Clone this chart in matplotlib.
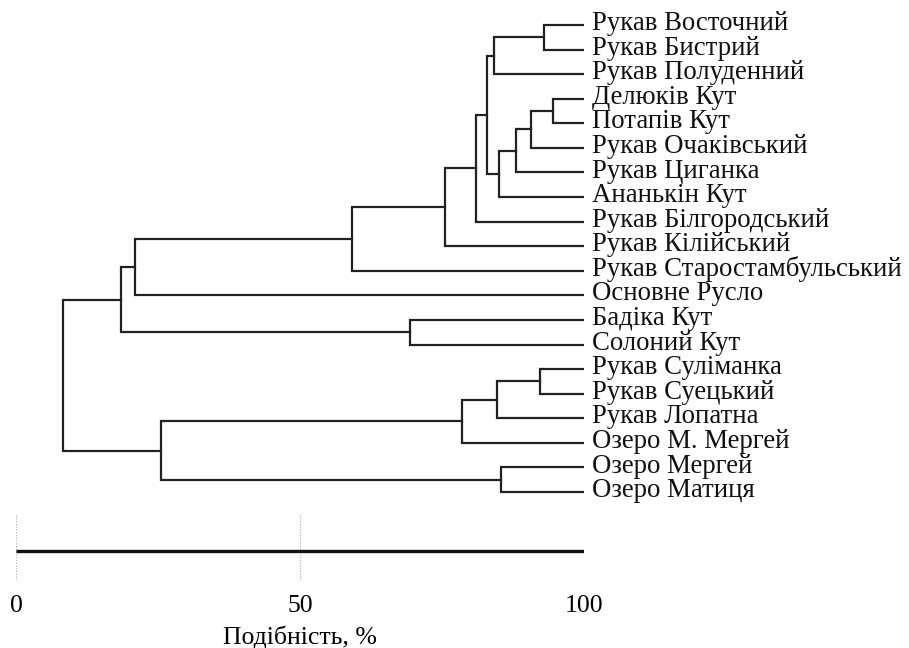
import matplotlib
matplotlib.use("Agg")
import matplotlib.pyplot as plt

plt.rcParams['font.family'] = ['Liberation Serif', 'DejaVu Serif']

# leaf labels, top to bottom
leaves = [
    'Рукав Восточний', 'Рукав Бистрий', 'Рукав Полуденний', 'Делюків Кут',
    'Потапів Кут', 'Рукав Очаківський', 'Рукав Циганка', 'Ананькін Кут',
    'Рукав Білгородський', 'Рукав Кілійський', 'Рукав Старостамбульський',
    'Основне Русло', 'Бадіка Кут', 'Солоний Кут', 'Рукав Суліманка',
    'Рукав Суецький', 'Рукав Лопатна', 'Озеро М. Мергей', 'Озеро Мергей',
    'Озеро Матиця',
]

# merges: (child a, child b) -> new cluster id 20, 21, ...
merge_a = [0, 20, 3, 22, 23, 24, 21, 26, 27, 28, 29, 12, 30, 14, 33, 34, 18, 35, 32]
merge_b = [1, 2, 4, 5, 6, 7, 25, 8, 9, 10, 11, 13, 31, 15, 16, 17, 19, 36, 37]
# similarity (%) at which each merge happens
merge_sim = [93.0, 84.2, 94.6, 90.7, 88.0, 85.0, 82.9, 81.0, 75.5, 59.2,
             20.9, 69.3, 18.5, 92.3, 84.6, 78.6, 85.3, 25.6, 8.2]

scale_ticks = [0, 50, 100]

fig = plt.figure(figsize=(9.09, 6.48), dpi=100)
ax = fig.add_axes([0.0176, 0.2218, 0.6249, 0.7586])
col = '#222222'

# node positions
xs = {i: 100.0 for i in range(len(leaves))}
ys = {i: float(i) for i in range(len(leaves))}
for k, (a, b, s) in enumerate(zip(merge_a, merge_b, merge_sim)):
    node = len(leaves) + k
    ax.plot([xs[a], s, s, xs[b]], [ys[a], ys[a], ys[b], ys[b]],
            color=col, lw=1.6, solid_joinstyle='miter')
    xs[node] = s
    ys[node] = (ys[a] + ys[b]) / 2

for i, name in enumerate(leaves):
    ax.annotate(name, (100, i), xytext=(6, 1), textcoords='offset points',
                va='center', ha='left', fontsize=19.3, color='#111111',
                annotation_clip=False)

ax.set_xlim(0, 100)
ax.set_ylim(len(leaves) - 0.5, -0.5)
ax.axis('off')

# scale bar below
sax = fig.add_axes([0.0176, 0.105, 0.6249, 0.1003])
sax.set_xlim(0, 100)
sax.set_ylim(0, 1)
for t in scale_ticks:
    sax.axvline(t, color='#aaaaaa', lw=0.8, ls=(0, (1, 1.5)))
sax.plot([0, 100], [0.446, 0.446], color='#111111', lw=2.4, solid_capstyle='butt')
for sp in sax.spines.values():
    sp.set_visible(False)
sax.set_yticks([])
sax.set_xticks(scale_ticks)
sax.set_xticklabels([str(t) for t in scale_ticks], fontsize=18.5)
sax.tick_params(axis='x', length=0, pad=11)
sax.set_xlabel('Подібність, %', fontsize=18.5, labelpad=6)

fig.savefig('out.png', dpi=100)
